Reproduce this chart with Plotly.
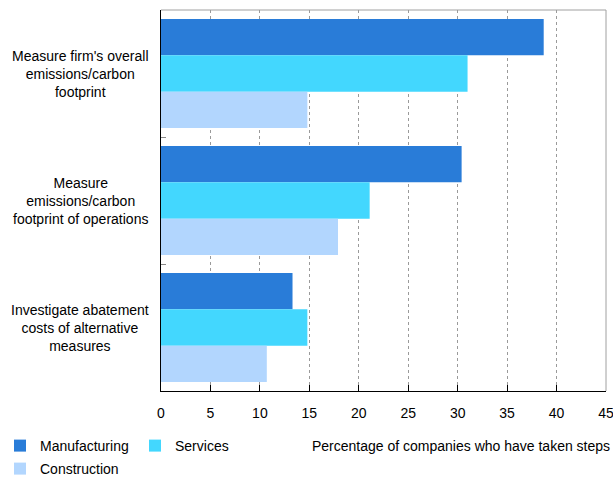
import plotly.graph_objects as go

# Survey data: share of companies (%) that have taken each step
categories = [
    "Measure firm's overall<br>emissions/carbon<br>footprint",
    "Measure<br>emissions/carbon<br>footprint of operations",
    "Investigate abatement<br>costs of alternative<br>measures",
]
manufacturing = [38.7, 30.4, 13.3]
services = [31.0, 21.1, 14.8]
construction = [14.8, 17.9, 10.7]

x_ticks = [0, 5, 10, 15, 20, 25, 30, 35, 40, 45]
x_title = "Percentage of companies who have taken steps"

FONT = "Liberation Sans, Arial, sans-serif"

series = [
    ("Manufacturing", manufacturing, "#297cd8", "legend"),
    ("Services", services, "#43d7fe", "legend2"),
    ("Construction", construction, "#b2d6fe", "legend3"),
]

fig = go.Figure()
for name, values, color, leg in series:
    fig.add_trace(go.Bar(
        y=categories, x=values, name=name, orientation="h",
        marker=dict(color=color, line=dict(width=0)),
        legend=leg, showlegend=True,
    ))

W, H = 613, 477
L, R, T, B = 161, 7, 10, 86
pw = W - L - R

def px_x(px):
    return (px - L) / pw

def px_y(py):
    return 1 - (py - T) / (H - T - B)

def cx(px):
    return px / W

def cy(py):
    return 1 - py / H

legend_common = dict(
    orientation="h", xanchor="left", yanchor="middle",
    xref="container", yref="container",
    font=dict(family=FONT, size=14, color="#000"),
    bgcolor="rgba(0,0,0,0)", borderwidth=0, itemclick=False,
)

fig.update_layout(
    width=W, height=H,
    margin=dict(l=L, r=R, t=T, b=B, autoexpand=False),
    paper_bgcolor="white", plot_bgcolor="white",
    barmode="group", bargap=0.14, bargroupgap=0,
    showlegend=True,
    font=dict(family=FONT, size=14, color="#000"),
    legend=dict(x=cx(0), y=cy(446), **legend_common),
    legend2=dict(x=cx(135), y=cy(446), **legend_common),
    legend3=dict(x=cx(0), y=cy(469), **legend_common),
    xaxis=dict(
        range=[0, 45], tickvals=x_ticks, ticktext=[str(v) for v in x_ticks],
        showgrid=True, gridcolor="#9a9a9a", griddash="dot", gridwidth=1,
        zeroline=False, showline=True, linecolor="#000", linewidth=1,
        ticks="inside", ticklen=6, tickcolor="#000",
        ticklabelstandoff=9, ticklabeloverflow="allow",
        tickfont=dict(family=FONT, size=14, color="#000"),
    ),
    yaxis=dict(
        autorange="reversed", showticklabels=False,
        showgrid=False, zeroline=False,
        showline=True, linecolor="#000", linewidth=1,
        ticks="inside", tickson="boundaries", ticklen=5, tickcolor="#888",
    ),
)

# Frame on the top and right of the plot area
fig.add_shape(type="line", xref="paper", yref="paper", x0=0, x1=1, y0=1, y1=1,
              line=dict(color="#a0a0a0", width=1))
fig.add_shape(type="line", xref="paper", yref="paper", x0=1, x1=1, y0=0, y1=1,
              line=dict(color="#a0a0a0", width=1))

# Category labels, centred in the left margin
for cat in categories:
    fig.add_annotation(
        x=px_x(80), xref="paper", y=cat, yref="y",
        text=cat, showarrow=False, xanchor="center", yanchor="middle",
        align="center", font=dict(family=FONT, size=14, color="#000"),
    )

# Value axis caption, right aligned on the legend row
fig.add_annotation(
    x=px_x(612), xref="paper", y=px_y(446), yref="paper",
    text=x_title, showarrow=False, xanchor="right", yanchor="middle",
    font=dict(family=FONT, size=14, color="#000"),
)

fig.write_html("out.html")
